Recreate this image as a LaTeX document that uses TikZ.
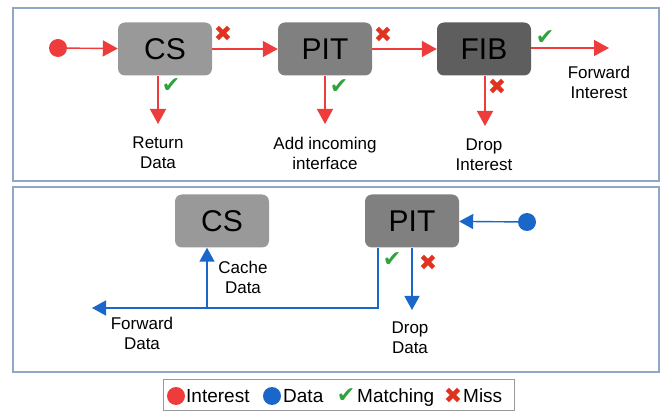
\documentclass[tikz,border=0pt]{standalone}
\usepackage{fontspec}
\setmainfont{Liberation Sans}
\newfontfamily\symfont{DejaVu Sans}
\usetikzlibrary{arrows.meta}
\definecolor{ired}{HTML}{EE3B3B}
\definecolor{dblue}{HTML}{1B66C9}
\definecolor{okgreen}{HTML}{2FA33C}
\definecolor{missred}{HTML}{E0331F}
\definecolor{panelc}{HTML}{8FA8C8}
\begin{document}
\begin{tikzpicture}[x=1pt,y=-1pt,
  box/.style={rectangle, rounded corners=7pt, minimum width=94pt, minimum height=53pt, inner sep=0pt, font=\fontsize{30}{34}\selectfont},
  lbl/.style={align=center, inner sep=0pt, font=\fontsize{17}{20}\selectfont},
  lgtext/.style={anchor=base west, inner sep=0pt, font=\fontsize{19}{19}\selectfont},
  iarrow/.style={draw=ired, line width=1.4pt, -{Triangle[length=15pt,width=16pt]}},
  darrow/.style={draw=dblue, line width=1.4pt, -{Triangle[length=14pt,width=15pt]}},
  ok/.style={text=okgreen, inner sep=0pt, font=\symfont\fontsize{22}{22}\selectfont},
  miss/.style={text=missred, inner sep=0pt, font=\symfont\fontsize{22}{22}\selectfont}]
\useasboundingbox (0,0) rectangle (665,414);
\fill[white] (0,0) rectangle (665,414);
\draw[panelc, line width=1.2pt] (13,8) rectangle (659,181);
\draw[panelc, line width=1.2pt] (13,187) rectangle (659,372);

% interest path
\node[circle, fill=ired, minimum size=18pt, inner sep=0pt] (idot) at (58,48){};
\node[box, fill=black!40] (cs1) at (165,49){CS};
\node[box, fill=black!50] (pit1) at (325,49){PIT};
\node[box, fill=black!63] (fib1) at (484,49){FIB};
\coordinate (fwdi) at (609,48);
\coordinate (ret) at (158,124);
\coordinate (addin) at (325,124);
\coordinate (dropi) at (485,126);
\draw[iarrow](idot) -- (cs1);
\draw[iarrow](cs1) -- (pit1);
\draw[iarrow](pit1) -- (fib1);
\draw[iarrow](fib1.east |- fwdi) -- (fwdi);
\draw[iarrow](ret |- cs1.south) -- (ret);
\draw[iarrow](addin |- pit1.south) -- (addin);
\draw[iarrow](dropi |- fib1.south) -- (dropi);
\node[miss] (m1) at (223,34){✖};
\node[miss] (m2) at (383,35){✖};
\node[ok] (k1) at (545,38){✔};
\node[ok] (k2) at (171,86){✔};
\node[ok] (k3) at (339,87){✔};
\node[miss] (m3) at (497,87){✖};
\node[lbl] (tfwdi) at (599,82){Forward\\Interest};
\node[lbl] (tret) at (158,153){Return\\Data};
\node[lbl] (tadd) at (325,153){Add incoming\\interface};
\node[lbl] (tdropi) at (484,155){Drop\\Interest};

% data path
\node[box, fill=black!40] (cs2) at (222,221){CS};
\node[box, fill=black!50] (pit2) at (412,221){PIT};
\node[circle, fill=dblue, minimum size=18pt, inner sep=0pt] (ddot) at (527,222){};
\coordinate (turn) at (378,308);
\coordinate (fwdd) at (92,308);
\coordinate (cache) at (207,308);
\coordinate (dropd) at (412,310);
\draw[darrow](ddot) -- (pit2);
\draw[darrow](turn |- pit2.south) -- (turn) -- (fwdd);
\draw[darrow](cache) -- (cache |- cs2.south);
\draw[darrow](dropd |- pit2.south) -- (dropd);
\node[ok] (k4) at (392,260){✔};
\node[miss] (m4) at (428,263){✖};
\node[lbl] (tcache) at (243,277){Cache\\Data};
\node[lbl] (tfwdd) at (142,333){Forward\\Data};
\node[lbl] (tdropd) at (410,338){Drop\\Data};

% legend
\draw[black!40, line width=1pt] (163,380) rectangle (514,411);
\node[circle, fill=ired, minimum size=18pt, inner sep=0pt] (lgi) at (176,396){};
\node[lgtext] (lgit) at (186,403){Interest};
\node[circle, fill=dblue, minimum size=18pt, inner sep=0pt] (lgd) at (272,396){};
\node[lgtext] (lgdt) at (283,403){Data};
\node[ok] (lgk) at (346,396){✔};
\node[lgtext] (lgkt) at (357,403){Matching};
\node[miss] (lgm) at (453,396){✖};
\node[lgtext] (lgmt) at (463,403){Miss};
\end{tikzpicture}
\end{document}
